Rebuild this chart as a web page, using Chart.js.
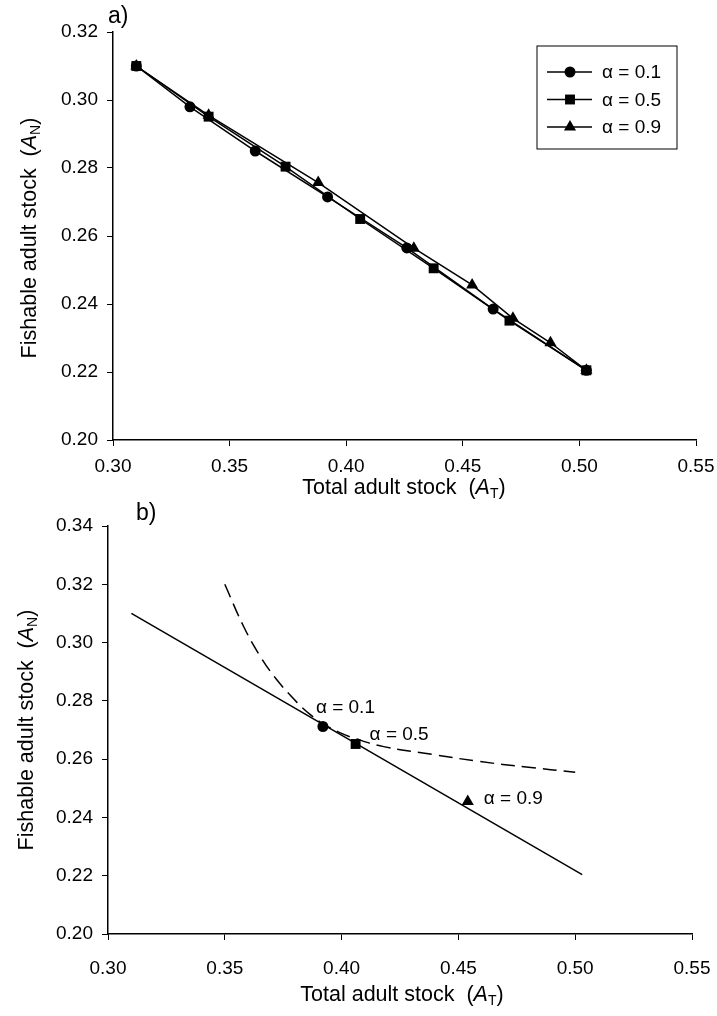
<!DOCTYPE html>
<html>
<head>
<meta charset="utf-8">
<script src="https://cdn.jsdelivr.net/npm/chart.js@4.4.1/dist/chart.umd.min.js"></script>
<style>
    body { margin: 0; background: #fff; width: 717px; height: 1016px; position: relative; overflow: hidden; font-family: 'Liberation Sans', Arial, sans-serif; }
    canvas { position: absolute; left: 0; }
    .lbl { position: absolute; font-size: 21.5px; color: #000; white-space: nowrap; line-height: 1; }
    .panel { font-size: 23px; }
    .ytit { transform: translate(-50%, -50%) rotate(-90deg); }
    .xtit { transform: translate(-50%, -50%); }
    sub { font-size: 14px; vertical-align: -4px; line-height: 0; }
</style>
</head>
<body>
<canvas id="graficoA" style="top:0"></canvas>
<canvas id="graficoB" style="top:500px"></canvas>

<div class="lbl panel" style="left:108px;top:4px">a)</div>
<div class="lbl panel" style="left:136px;top:501px">b)</div>
<div class="lbl ytit" style="left:30px;top:238px">Fishable adult stock&nbsp;&nbsp;(<i>A</i><sub>N</sub>)</div>
<div class="lbl xtit" style="left:404px;top:488px">Total adult stock&nbsp;&nbsp;(<i>A</i><sub>T</sub>)</div>
<div class="lbl ytit" style="left:27px;top:730px">Fishable adult stock&nbsp;&nbsp;(<i>A</i><sub>N</sub>)</div>
<div class="lbl xtit" style="left:402px;top:995px">Total adult stock&nbsp;&nbsp;(<i>A</i><sub>T</sub>)</div>

<script>
// Datos panel a) - trayectorias para cada alfa
var a_x01 = [0.310, 0.333, 0.361, 0.392, 0.426, 0.463, 0.503];
var a_y01 = [0.310, 0.298, 0.285, 0.2715, 0.2565, 0.2385, 0.2205];
var a_x05 = [0.310, 0.341, 0.374, 0.406, 0.4375, 0.470, 0.503];
var a_y05 = [0.310, 0.2951, 0.2804, 0.265, 0.2505, 0.2351, 0.2205];
var a_x09 = [0.310, 0.341, 0.388, 0.429, 0.454, 0.4715, 0.4876, 0.503];
var a_y09 = [0.310, 0.2955, 0.2757, 0.2564, 0.2456, 0.2358, 0.2286, 0.2205];
var alfaLabels = ['\u03b1 = 0.1', '\u03b1 = 0.5', '\u03b1 = 0.9'];

// Datos panel b) - frontera recta, curva discontinua y puntos
var b_lineX = [0.310, 0.503];
var b_lineY = [0.310, 0.2204];
var b_curveX = [0.350, 0.358, 0.365, 0.372, 0.381, 0.387, 0.392, 0.399, 0.4065, 0.418, 0.439, 0.459, 0.479, 0.500];
var b_curveY = [0.320, 0.3056, 0.2955, 0.2875, 0.2794, 0.2750, 0.2722, 0.2692, 0.2669, 0.2643, 0.2616, 0.2592, 0.2573, 0.2555];
var b_ptX = [0.392, 0.406, 0.454];
var b_ptY = [0.2712, 0.2652, 0.2455];

var xTicks = [0.30, 0.35, 0.40, 0.45, 0.50, 0.55];
var yTicksA = [0.20, 0.22, 0.24, 0.26, 0.28, 0.30, 0.32];
var yTicksB = [0.20, 0.22, 0.24, 0.26, 0.28, 0.30, 0.32, 0.34];

var estilos = ['circle', 'rect', 'triangle'];
var radios = [5.5, 7, 7];
var FUENTE = "'Liberation Sans', Arial, sans-serif";

function pares(xs, ys) {
    return xs.map(function(x, i) { return { x: x, y: ys[i] }; });
}

function dibujarMarca(ctx, estilo, x, y, r) {
    ctx.beginPath();
    if (estilo === 'circle') {
        ctx.arc(x, y, r, 0, Math.PI * 2);
    } else if (estilo === 'rect') {
        var s = r * Math.SQRT1_2;
        ctx.rect(x - s, y - s, 2 * s, 2 * s);
    } else {
        ctx.moveTo(x, y - r);
        ctx.lineTo(x + r * 0.866, y + r * 0.5);
        ctx.lineTo(x - r * 0.866, y + r * 0.5);
        ctx.closePath();
    }
    ctx.fill();
}

function escalas(yTicks, anchoY, altoX, padX) {
    var ejeComun = {
        type: 'linear',
        border: { display: true, color: '#000', width: 1.5 },
        grid: { display: true, drawOnChartArea: false, drawTicks: true, tickLength: 6, color: '#000', lineWidth: 1 },
        ticks: { color: '#000', font: { family: FUENTE, size: 19 } }
    };
    return {
        x: Object.assign({}, ejeComun, {
            min: xTicks[0], max: xTicks[xTicks.length - 1],
            afterBuildTicks: function(s) { s.ticks = xTicks.map(function(v) { return { value: v }; }); },
            ticks: Object.assign({}, ejeComun.ticks, { padding: padX, maxRotation: 0, callback: function(v) { return v.toFixed(2); } }),
            afterFit: function(s) { s.height = altoX; s.paddingRight = 0; s.paddingLeft = 0; }
        }),
        y: Object.assign({}, ejeComun, {
            min: yTicks[0], max: yTicks[yTicks.length - 1],
            afterBuildTicks: function(s) { s.ticks = yTicks.map(function(v) { return { value: v }; }); },
            ticks: Object.assign({}, ejeComun.ticks, { padding: 9, callback: function(v) { return v.toFixed(2); } }),
            afterFit: function(s) { s.width = anchoY; s.paddingTop = 0; s.paddingBottom = 0; }
        })
    };
}

// Leyenda con caja (panel a)
var leyendaA = {
    id: 'leyendaA',
    afterDraw: function(chart) {
        var ctx = chart.ctx;
        var bx = 537, by = 46, bw = 140, bh = 103;
        ctx.save();
        ctx.strokeStyle = '#000';
        ctx.lineWidth = 1;
        ctx.strokeRect(bx, by, bw, bh);
        ctx.fillStyle = '#000';
        ctx.font = '19px ' + FUENTE;
        ctx.textBaseline = 'middle';
        for (var i = 0; i < 3; i++) {
            var y = by + 26 + i * 27.5;
            ctx.lineWidth = 1.5;
            ctx.beginPath();
            ctx.moveTo(bx + 10, y);
            ctx.lineTo(bx + 55, y);
            ctx.stroke();
            dibujarMarca(ctx, estilos[i], bx + 33, y, radios[i]);
            ctx.fillText(alfaLabels[i], bx + 65, y + 1);
        }
        ctx.restore();
    }
};

// Etiquetas de alfa junto a los puntos (panel b)
var desplaz = [[-7, -19], [14, -9], [16, -3]];
var etiquetasB = {
    id: 'etiquetasB',
    afterDatasetsDraw: function(chart) {
        var ctx = chart.ctx;
        var sx = chart.scales.x, sy = chart.scales.y;
        ctx.save();
        ctx.fillStyle = '#000';
        ctx.font = '19px ' + FUENTE;
        ctx.textBaseline = 'middle';
        for (var i = 0; i < b_ptX.length; i++) {
            var px = sx.getPixelForValue(b_ptX[i]);
            var py = sy.getPixelForValue(b_ptY[i]);
            ctx.fillText(alfaLabels[i], px + desplaz[i][0], py + desplaz[i][1]);
        }
        ctx.restore();
    }
};

function serieA(xs, ys, i) {
    return {
        data: pares(xs, ys),
        borderColor: '#000', backgroundColor: '#000', borderWidth: 1.5,
        pointStyle: estilos[i], pointRadius: radios[i], pointBorderWidth: 0,
        showLine: true, tension: 0
    };
}

document.addEventListener('DOMContentLoaded', function() {
    Chart.defaults.font.family = FUENTE;
    Chart.defaults.color = '#000';

    var cA = document.getElementById('graficoA');
    cA.width = 717; cA.height = 500;
    new Chart(cA, {
        type: 'scatter',
        data: {
            datasets: [serieA(a_x09, a_y09, 2), serieA(a_x05, a_y05, 1), serieA(a_x01, a_y01, 0)]
        },
        options: {
            responsive: false, animation: false, devicePixelRatio: 1,
            layout: { padding: { top: 32, right: 21, left: 0, bottom: 0 } },
            plugins: { legend: { display: false }, tooltip: { enabled: false } },
            scales: escalas(yTicksA, 113, 60, 9)
        },
        plugins: [leyendaA]
    });

    var cB = document.getElementById('graficoB');
    cB.width = 717; cB.height = 516;
    new Chart(cB, {
        type: 'scatter',
        data: {
            datasets: [
                { data: pares(b_lineX, b_lineY), showLine: true, borderColor: '#000', borderWidth: 1.5, pointRadius: 0 },
                { data: pares(b_curveX, b_curveY), showLine: true, borderColor: '#000', borderWidth: 1.5, borderDash: [14, 7], pointRadius: 0, tension: 0.4 },
                {
                    data: pares(b_ptX, b_ptY), showLine: false, backgroundColor: '#000', borderWidth: 0,
                    pointStyle: estilos, pointRadius: radios
                }
            ]
        },
        options: {
            responsive: false, animation: false, devicePixelRatio: 1,
            layout: { padding: { top: 26, right: 25, left: 0, bottom: 0 } },
            plugins: { legend: { display: false }, tooltip: { enabled: false } },
            scales: escalas(yTicksB, 108, 82, 17)
        },
        plugins: [etiquetasB]
    });
});
</script>
</body>
</html>
